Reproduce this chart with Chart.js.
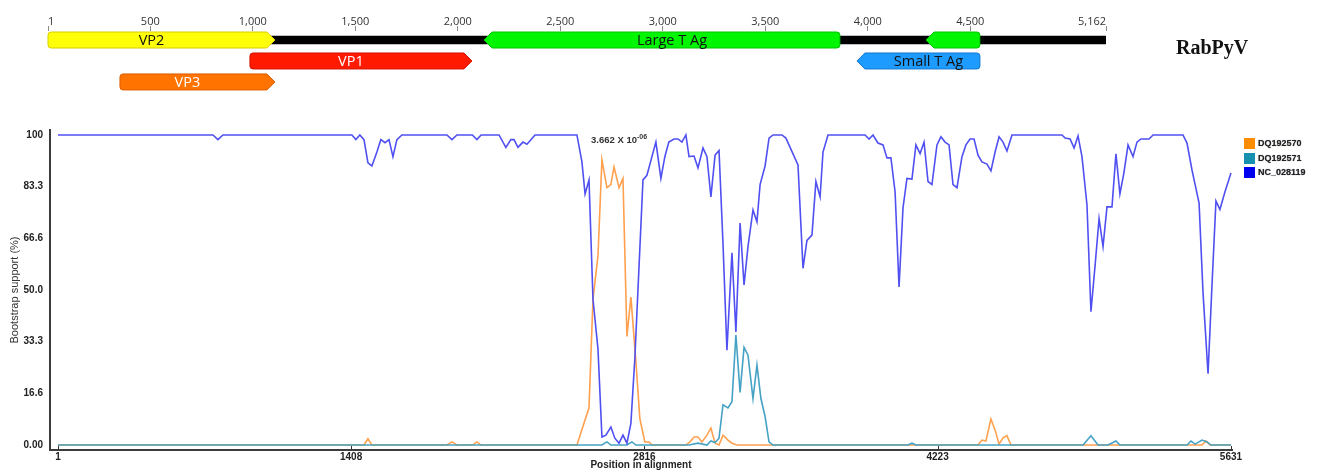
<!DOCTYPE html>
<html>
<head>
<meta charset="utf-8">
<script src="https://cdn.jsdelivr.net/npm/chart.js@4.4.1/dist/chart.umd.min.js"></script>
<style>
  html, body { margin: 0; padding: 0; background: #fff; }
  #wrap { position: relative; width: 1320px; height: 471px; overflow: hidden; }
  #mapCanvas { position: absolute; left: 0; top: 0; }
  #plotCanvas { position: absolute; left: 0; top: 110px; }
  #virus { position: absolute; left: 1176px; top: 36px; font: bold 20px "Liberation Serif", serif; color: #111; }
  #note { position: absolute; left: 591px; top: 133px; font: bold 9.5px "Liberation Sans", Arial, sans-serif; color: #333; white-space: nowrap; }
  #note sup { font-size: 7px; }
  #legend { position: absolute; left: 1244px; top: 138px; font: bold 9px "Liberation Sans", Arial, sans-serif; color: #222; }
  .lg { height: 14.5px; display: flex; align-items: flex-start; }
  .lg i { width: 11px; height: 11px; display: inline-block; margin-right: 3px; }
  .lg span { line-height: 11px; text-shadow: 0 0 1px #778; }
</style>
</head>
<body>
<div id="wrap">
  <canvas id="mapCanvas" width="1320" height="110"></canvas>
  <canvas id="plotCanvas" width="1320" height="361"></canvas>
  <div id="virus">RabPyV</div>
  <div id="note">3.662 X 10<sup>-06</sup></div>
  <div id="legend"></div>
</div>
<script>
// genome map
const genomeLength = 5162;
const mapTicks = [1, 500, 1000, 1500, 2000, 2500, 3000, 3500, 4000, 4500, 5162];
const geneNames = ['VP2', 'VP3', 'VP1', 'Large T Ag', '', 'Small T Ag'];
const geneStart = [1, 352, 986, 2128, 4284, 3947];
const geneEnd = [1108, 1108, 2069, 3864, 4547, 4547];
const geneStrand = [1, 1, 1, -1, -1, -1];
const geneRow = [0, 2, 1, 0, 0, 1];

// bootscan
const xTicks = [1, 1408, 2816, 4223, 5631];
const yTickValues = [0, 16.67, 33.33, 50, 66.67, 83.33, 100];
const yTickLabels = ['0.00', '16.6', '33.3', '50.0', '66.6', '83.3', '100'];

const ncPos = [1, 745, 769, 793, 1412, 1431, 1450, 1470, 1489, 1508,
  1532, 1551, 1571, 1590, 1609, 1628, 1652, 1868, 1892, 1916,
  1990, 2012, 2032, 2118, 2151, 2175, 2190, 2209, 2233, 2252,
  2291, 2492, 2516, 2531, 2550, 2569, 2593, 2612, 2631, 2655,
  2674, 2694, 2713, 2732, 2751, 2770, 2809, 2828, 2852, 2871,
  2895, 2914, 2933, 2958, 2977, 2996, 3015, 3030, 3054, 3073,
  3097, 3116, 3135, 3155, 3174, 3193, 3212, 3236, 3255, 3275,
  3294, 3313, 3337, 3356, 3371, 3395, 3414, 3433, 3476, 3495,
  3515, 3553, 3577, 3596, 3620, 3639, 3659, 3673, 3697, 3875,
  3894, 3913, 3937, 3961, 3980, 3999, 4019, 4038, 4057, 4076,
  4100, 4119, 4139, 4158, 4177, 4196, 4220, 4239, 4259, 4278,
  4297, 4316, 4340, 4359, 4379, 4398, 4417, 4436, 4460, 4479,
  4499, 4518, 4537, 4556, 4580, 4820, 4835, 4859, 4878, 4897,
  4916, 4940, 4959, 4979, 4998, 5017, 5036, 5060, 5079, 5098,
  5117, 5137, 5161, 5180, 5199, 5238, 5257, 5401, 5420, 5444,
  5459, 5478, 5497, 5521, 5540, 5559, 5578, 5602, 5631];
const ncVal = [100, 100, 98.5, 100, 100, 98.5, 100, 98.5, 91, 90,
  94.5, 98.5, 97.5, 98.5, 93, 98.5, 100, 100, 98.5, 100,
  100, 98.5, 100, 100, 96, 98.5, 98.5, 96, 97.7, 97,
  100, 100, 91.3, 81, 85.5, 47, 31, 2.6, 3.2, 5.8,
  2.2, 0.6, 3.2, 0.6, 7, 28, 85.5, 87, 93, 97.7,
  86, 93, 97.7, 98.7, 98.7, 97.7, 100, 93, 93.2, 89.4,
  95.8, 93, 80, 93.5, 95, 65, 30.6, 62, 36.5, 71.6,
  51.6, 64, 75.8, 72, 84, 90, 99, 100, 100, 99,
  96, 90.3, 57, 66, 67.7, 85, 80, 94.5, 100, 100,
  98.7, 100, 97.4, 96.8, 92.6, 92.6, 81.6, 51, 76.5, 86,
  85.8, 96.8, 94, 97.7, 85, 84, 96.8, 99.4, 97.7, 96.8,
  84, 83, 93, 96.8, 98.7, 98.7, 93.5, 91.3, 90.6, 88.4,
  94.5, 99.4, 97.7, 94.8, 100, 100, 99, 98.7, 95.8, 99.7,
  93, 77.4, 43, 58, 73, 64, 76.8, 76.8, 93.9, 81,
  87.7, 96.8, 93, 97.7, 98.7, 98.7, 100, 100, 97.4, 88.7,
  84, 78, 49, 23, 51.6, 78.7, 76, 81.6, 87.7];

const dq70Pos = [1, 1470, 1489, 1508, 1868, 1892, 1916, 1990, 2012, 2032,
  2492, 2550, 2569, 2593, 2612, 2636, 2655, 2670, 2694, 2713,
  2732, 2751, 2775, 2794, 2818, 2838, 2852, 3015, 3034, 3054,
  3073, 3092, 3116, 3135, 3155, 3174, 3193, 3217, 3236, 3260,
  4417, 4436, 4455, 4479, 4499, 4518, 4537, 4556, 4575, 5492,
  5511, 5530, 5631];
const dq70Val = [0, 0, 2, 0, 0, 1, 0, 0, 1, 0,
  0, 12, 47, 61, 92, 83, 84, 89.7, 83, 86,
  35, 47.7, 27, 8.5, 1, 1, 0, 0, 1, 2.6,
  2.6, 1, 3.2, 5.5, 0.6, 0, 3.2, 1.6, 0.6, 0,
  0, 1.6, 1.3, 8.4, 4.8, 0.3, 2.3, 3, 0, 0,
  1.3, 0, 0];

const dq71Pos = [1, 2612, 2636, 2655, 2732, 2756, 2775, 3030, 3073, 3116,
  3135, 3155, 3174, 3193, 3217, 3236, 3255, 3275, 3294, 3313,
  3337, 3356, 3375, 3395, 3414, 3433, 4081, 4100, 4119, 4921,
  4959, 4993, 5041, 5079, 5098, 5420, 5439, 5459, 5492, 5516,
  5535, 5631];
const dq71Val = [0, 0, 1, 0, 0, 1, 0, 0, 0.6, 0,
  1.3, 0.8, 2.2, 13, 12, 14, 35.5, 17, 31.5, 29,
  15, 25.8, 15, 9.2, 1, 0, 0, 0.6, 0, 0,
  3, 0, 0, 1.3, 0, 0, 1.3, 0.3, 1.6, 1,
  0, 0];

const geneFill = ['#ffff0a', '#ff7300', '#ff1a00', '#00f500', '#00f500', '#1e9bff'];
const geneEdge = ['#d9cc00', '#dd5f00', '#d41500', '#00c400', '#00c400', '#1577d0'];
const geneInk = ['#111', '#fff', '#fff', '#111', '#111', '#111'];

const pts = (xs, ys) => xs.map((x, i) => ({ x: x, y: ys[i] }));

const geneArrows = {
  id: 'geneArrows',
  afterDatasetsDraw(chart) {
    const ctx = chart.ctx;
    const meta = chart.getDatasetMeta(1);
    meta.data.forEach((bar, i) => {
      const a = Math.min(bar.x, bar.base), b = Math.max(bar.x, bar.base);
      const top = bar.y - bar.height / 2, bot = bar.y + bar.height / 2;
      const head = 8, r = 3;
      ctx.save();
      ctx.beginPath();
      if (geneStrand[i] > 0) {
        ctx.moveTo(a + r, top);
        ctx.lineTo(b - head, top);
        ctx.lineTo(b, bar.y);
        ctx.lineTo(b - head, bot);
        ctx.lineTo(a + r, bot);
        ctx.arcTo(a, bot, a, bot - r, r);
        ctx.lineTo(a, top + r);
        ctx.arcTo(a, top, a + r, top, r);
      } else {
        ctx.moveTo(b - r, top);
        ctx.lineTo(a + head, top);
        ctx.lineTo(a, bar.y);
        ctx.lineTo(a + head, bot);
        ctx.lineTo(b - r, bot);
        ctx.arcTo(b, bot, b, bot - r, r);
        ctx.lineTo(b, top + r);
        ctx.arcTo(b, top, b - r, top, r);
      }
      ctx.closePath();
      ctx.fillStyle = geneFill[i];
      ctx.fill();
      ctx.lineWidth = 1;
      ctx.strokeStyle = geneEdge[i];
      ctx.stroke();
      if (geneNames[i]) {
        ctx.font = '14.5px "Open Sans", sans-serif';
        ctx.fillStyle = geneInk[i];
        ctx.textAlign = 'center';
        ctx.textBaseline = 'middle';
        ctx.fillText(geneNames[i], (a + b) / 2 - geneStrand[i] * 10, bar.y + 1);
      }
      ctx.restore();
    });
  }
};

new Chart(document.getElementById('mapCanvas'), {
  type: 'bar',
  data: {
    datasets: [
      {
        label: 'genome',
        data: [{ x: [1, genomeLength], y: 0 }],
        backgroundColor: '#000',
        barThickness: 8,
        grouped: false
      },
      {
        label: 'genes',
        data: geneStart.map((s, i) => ({ x: [s, geneEnd[i]], y: geneRow[i] })),
        backgroundColor: 'rgba(0,0,0,0)',
        borderWidth: 0,
        barThickness: 16,
        grouped: false
      }
    ]
  },
  options: {
    indexAxis: 'y',
    responsive: false,
    animation: false,
    layout: { padding: { left: 48, right: 214, top: 11, bottom: 18 } },
    plugins: { legend: { display: false }, tooltip: { enabled: false } },
    scales: {
      x: {
        type: 'linear',
        position: 'top',
        min: 1,
        max: genomeLength,
        afterBuildTicks: s => { s.ticks = mapTicks.map(v => ({ value: v })); },
        afterFit: s => { s.height = 20; },
        grid: { drawOnChartArea: false, tickLength: 5, color: '#8a8a8a' },
        border: { display: false },
        ticks: {
          align: 'inner',
          padding: -2,
          autoSkip: false,
          maxRotation: 0,
          color: '#333',
          font: { family: '"Open Sans", sans-serif', size: 11 },
          callback: v => Number(v).toLocaleString('en-US')
        }
      },
      y: { type: 'linear', display: false, offset: false, min: -0.43, max: 2.48, reverse: true }
    }
  },
  plugins: [geneArrows]
});

const tickMarks = {
  id: 'tickMarks',
  afterDraw(chart) {
    const sx = chart.scales.x, ctx = chart.ctx, y0 = chart.chartArea.bottom;
    ctx.save();
    ctx.strokeStyle = '#333';
    ctx.lineWidth = 1;
    sx.ticks.forEach(t => {
      const px = Math.round(sx.getPixelForValue(t.value)) + 0.5;
      ctx.beginPath();
      ctx.moveTo(px, y0);
      ctx.lineTo(px, y0 - 4);
      ctx.stroke();
    });
    ctx.restore();
  }
};

const sans = '"Liberation Sans", Arial, sans-serif';
const plot = new Chart(document.getElementById('plotCanvas'), {
  type: 'line',
  data: {
    datasets: [
      { label: 'DQ192570', data: pts(dq70Pos, dq70Val), borderColor: '#ffa04e', legendColor: '#ff8c00', order: 2 },
      { label: 'DQ192571', data: pts(dq71Pos, dq71Val), borderColor: '#45a2c4', legendColor: '#1790b0', order: 1 },
      { label: 'NC_028119', data: pts(ncPos, ncVal), borderColor: '#5050f2', legendColor: '#0000ee', order: 0 }
    ]
  },
  options: {
    responsive: false,
    animation: false,
    elements: { point: { radius: 0 }, line: { tension: 0, borderWidth: 1.6 } },
    layout: { padding: { top: 20, right: 88, left: 0, bottom: 0 } },
    plugins: { legend: { display: false }, tooltip: { enabled: false } },
    scales: {
      x: {
        type: 'linear',
        min: -37,
        max: 5636,
        afterBuildTicks: s => { s.ticks = xTicks.map(v => ({ value: v })); },
        afterFit: s => { s.height = 21; },
        grid: { display: false, drawTicks: false },
        border: { display: true, color: '#3c3c3c', width: 2 },
        ticks: {
          padding: 1,
          autoSkip: false,
          maxRotation: 0,
          color: '#222',
          font: { family: sans, size: 10, weight: 'bold' },
          callback: v => String(v)
        },
        title: {
          display: true,
          text: 'Position in alignment',
          color: '#222',
          font: { family: sans, size: 10, weight: 'bold' },
          padding: { top: 0, bottom: 0 }
        }
      },
      y: {
        type: 'linear',
        min: -1.6,
        max: 101.6,
        afterBuildTicks: s => { s.ticks = yTickValues.map(v => ({ value: v })); },
        afterFit: s => { s.width = 50; },
        grid: { display: false, drawTicks: false },
        border: { display: true, color: '#3c3c3c', width: 2 },
        ticks: {
          padding: 7,
          color: '#222',
          font: { family: sans, size: 10, weight: 'bold' },
          callback: (v, i) => yTickLabels[i]
        },
        title: {
          display: true,
          text: 'Bootstrap support (%)',
          color: '#333',
          font: { family: sans, size: 11 },
          padding: { top: 8, bottom: 0 }
        }
      }
    }
  },
  plugins: [tickMarks]
});

// html legend
const legendBox = document.getElementById('legend');
plot.data.datasets.forEach(ds => {
  const row = document.createElement('div');
  row.className = 'lg';
  row.innerHTML = `<i style="background:${ds.legendColor}"></i><span>${ds.label}</span>`;
  legendBox.appendChild(row);
});
</script>
</body>
</html>
